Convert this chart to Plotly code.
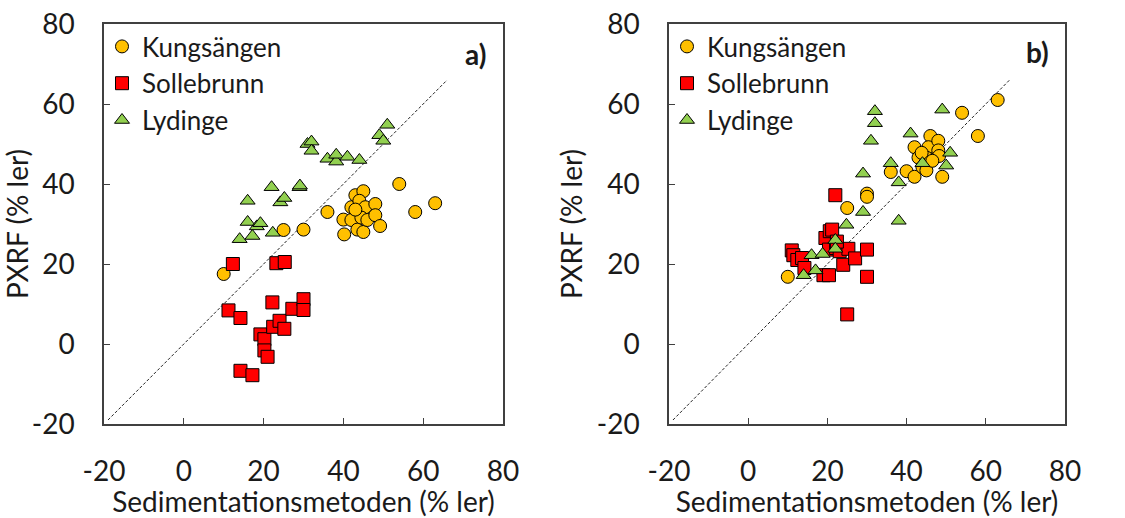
import plotly.graph_objects as go

# ---------------- data ----------------
# Panel a
a_kung_x = [10.0, 25.0, 30.0, 36.0, 40.0, 40.2, 42.0, 42.0, 43.0, 45.0, 44.0, 45.5, 43.5, 45.0, 44.5, 46.0, 48.0, 48.0, 49.2, 54.0, 58.0, 63.0, 43.0]
a_kung_y = [17.5, 28.5, 28.6, 33.0, 31.1, 27.4, 31.0, 34.2, 37.2, 38.2, 35.8, 34.2, 28.6, 28.0, 31.6, 31.0, 35.0, 32.2, 29.5, 40.0, 33.0, 35.2, 33.6]

a_soll_x = [12.3, 23.2, 25.3, 11.2, 14.2, 22.2, 19.2, 20.2, 20.2, 21.0, 22.4, 24.0, 25.2, 27.2, 30.0, 30.0, 14.2, 17.2]
a_soll_y = [20.0, 20.2, 20.5, 8.4, 6.5, 10.4, 2.4, 1.2, -1.6, -3.2, 4.3, 5.8, 3.8, 8.8, 11.2, 8.5, -6.7, -7.8]

a_lyd_x = [14.0, 16.0, 16.0, 17.2, 18.3, 19.2, 22.0, 22.3, 24.2, 25.2, 29.0, 29.1, 31.0, 32.0, 32.0, 36.0, 38.2, 38.2, 41.0, 44.0, 49.0, 50.0, 51.0]
a_lyd_y = [26.2, 30.5, 35.8, 27.0, 29.4, 30.2, 39.2, 27.8, 35.4, 36.5, 39.2, 39.6, 50.0, 50.6, 48.3, 46.3, 45.6, 47.3, 46.8, 46.0, 52.2, 50.8, 54.8]

# Panel b
b_kung_x = [10.0, 25.0, 30.0, 30.0, 36.0, 40.0, 42.0, 42.0, 43.0, 44.0, 45.0, 46.0, 45.5, 45.0, 48.0, 48.0, 48.2, 49.0, 54.0, 58.0, 63.0, 46.5, 43.8]
b_kung_y = [16.8, 34.0, 37.6, 36.8, 43.0, 43.2, 41.8, 49.2, 46.6, 44.2, 43.4, 52.0, 49.2, 46.6, 50.8, 48.4, 47.0, 41.8, 57.8, 52.0, 61.0, 45.8, 47.8]

b_soll_x = [11.0, 11.4, 12.4, 13.6, 14.2, 19.0, 20.4, 19.5, 20.6, 21.2, 22.0, 20.4, 22.2, 23.1, 24.0, 25.3, 27.0, 30.0, 30.0, 25.0, 22.4]
b_soll_y = [23.4, 22.2, 21.0, 21.5, 19.0, 17.2, 17.2, 26.5, 28.2, 28.6, 37.2, 23.6, 24.0, 23.2, 19.8, 23.8, 21.4, 23.6, 16.8, 7.4, 25.6]

b_lyd_x = [14.0, 16.0, 17.0, 18.8, 22.0, 22.0, 24.8, 29.0, 29.0, 31.0, 32.0, 32.0, 36.0, 38.0, 38.0, 41.0, 44.0, 49.0, 50.0, 51.0]
b_lyd_y = [17.2, 22.2, 18.4, 22.5, 26.0, 23.8, 29.8, 33.0, 42.6, 50.8, 55.2, 58.2, 45.2, 40.4, 30.8, 52.6, 45.2, 58.6, 44.6, 47.8]

ref_line = [-19, 66]

series_names = ["Kungsängen", "Sollebrunn", "Lydinge"]
tick_vals = [-20, 0, 20, 40, 60, 80]
tick_text = ["-20", "0", "20", "40", "60", "80"]
panel_labels = ["a)", "b)"]

# ---------------- styling ----------------
FONT = "Lato, Carlito, Calibri, sans-serif"
TXT = "#1a1a1a"
fills = ["#FFC000", "#FF0000", "#92D050"]
symbols = ["circle", "square", "triangle-up"]
sizes = [13, 13, 13]
AX = "#404040"
FS = 28
LFS = 26

fig = go.Figure()

panels = [
    ([a_kung_x, a_soll_x, a_lyd_x], [a_kung_y, a_soll_y, a_lyd_y], "x", "y", "legend"),
    ([b_kung_x, b_soll_x, b_lyd_x], [b_kung_y, b_soll_y, b_lyd_y], "x2", "y2", "legend2"),
]

for xs, ys, xa, ya, lg in panels:
    fig.add_trace(go.Scatter(x=ref_line, y=ref_line, mode="lines",
                             line=dict(color="#222222", width=1, dash="3px,2px"),
                             showlegend=False, hoverinfo="skip", xaxis=xa, yaxis=ya))
    for i in range(3):
        fig.add_trace(go.Scatter(
            x=xs[i], y=ys[i], mode="markers", name=series_names[i],
            marker=dict(symbol=symbols[i], size=sizes[i], color=fills[i],
                        line=dict(color="#000000", width=1)),
            xaxis=xa, yaxis=ya, legend=lg))

W, H = 1125, 518
def xd(l, r):
    return [l / W, r / W]
def yd(t, b):
    return [1 - b / H, 1 - t / H]

axis_common = dict(
    range=[-20, 80], tickvals=tick_vals, ticktext=tick_text, ticks="inside", ticklen=6, tickwidth=1.2,
    tickcolor=AX, showline=True, linecolor=AX, linewidth=1.5, mirror=True,
    showgrid=False, zeroline=False, automargin=False,
    tickfont=dict(family=FONT, size=FS, color=TXT),
)

xtitle = dict(text="Sedimentationsmetoden (% ler)", font=dict(family=FONT, size=FS, color=TXT), standoff=4)
ytitle = dict(text="PXRF (% ler)", font=dict(family=FONT, size=FS, color=TXT), standoff=6)

fig.update_layout(
    width=W, height=H, margin=dict(l=0, r=0, t=0, b=0, autoexpand=False),
    paper_bgcolor="white", plot_bgcolor="white",
    xaxis=dict(domain=xd(104, 503), anchor="y", title=xtitle, ticklabelstandoff=22, **axis_common),
    yaxis=dict(domain=yd(24, 424), anchor="x", title=ytitle, ticklabelstandoff=22, **axis_common),
    xaxis2=dict(domain=xd(669, 1065), anchor="y2", title=xtitle, ticklabelstandoff=22, **axis_common),
    yaxis2=dict(domain=yd(24, 424), anchor="x2", title=ytitle, ticklabelstandoff=22, **axis_common),
    legend=dict(x=102 / W, y=1 - 23 / H, xanchor="left", yanchor="top",
                bgcolor="rgba(0,0,0,0)", font=dict(family=FONT, size=LFS, color=TXT),
                itemwidth=30, tracegroupgap=0),
    legend2=dict(x=667 / W, y=1 - 23 / H, xanchor="left", yanchor="top",
                 bgcolor="rgba(0,0,0,0)", font=dict(family=FONT, size=LFS, color=TXT),
                 itemwidth=30, tracegroupgap=0),
    showlegend=True,
)

fig.add_annotation(text="<b>" + panel_labels[0] + "</b>", xref="paper", yref="paper",
                   x=488 / W, y=1 - 54 / H, xanchor="right", yanchor="middle", showarrow=False,
                   font=dict(family=FONT, size=FS, color=TXT))
fig.add_annotation(text="<b>" + panel_labels[1] + "</b>", xref="paper", yref="paper",
                   x=1051 / W, y=1 - 52 / H, xanchor="right", yanchor="middle", showarrow=False,
                   font=dict(family=FONT, size=FS, color=TXT))

fig.write_html("out.html", config={"displayModeBar": False},
               post_script="document.body.style.margin='0px';")
